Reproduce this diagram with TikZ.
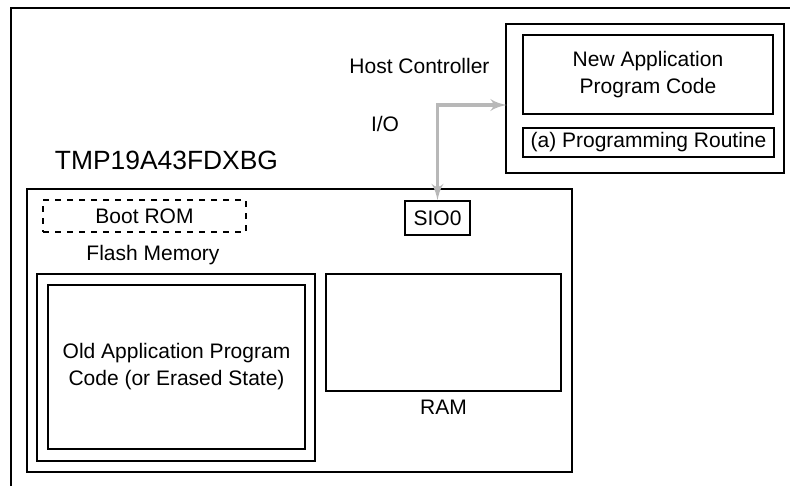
\documentclass[tikz,border=0pt]{standalone}
\usepackage{fontspec}
\setmainfont{Liberation Sans}
\usetikzlibrary{shapes,arrows,positioning}
\tikzstyle{box} = [rectangle, draw, line width=0.6pt, inner sep=0pt, align=center, font=\fontsize{10.5}{13.5}\selectfont]
\tikzstyle{boxthick} = [box, line width=1.1pt]
\tikzstyle{label} = [inner sep=0pt, font=\fontsize{10.5}{13.5}\selectfont]
\tikzstyle{link} = [draw, black!28, line width=1.8pt, latex'-latex', shorten >=-1pt]

\begin{document}
\begin{tikzpicture}[x=0.5pt, y=-0.5pt]
    \useasboundingbox (0,0) rectangle (790,486);
    \draw [line width=0.9pt] (11,486) -- (11,8) -- (790,8);
    % host side
    \node [boxthick, line width=1.4pt, minimum width=139pt, minimum height=74.5pt] (host) at (645,98.5) {};
    \node [box, minimum width=125pt, minimum height=39.5pt] (newcode) at (648,74.5) {New Application\\Program Code};
    \node [box, line width=0.9pt, minimum width=125.5pt, minimum height=14.5pt] (routine) at (648.5,142.5) {(a) Programming Routine};
    \node [label] (hostlbl) at (419.5,66) {Host Controller};
    \node [label] (io) at (385,124) {I/O};
    % microcontroller
    \node [label, font=\fontsize{13.2}{16}\selectfont] (chiplbl) at (166.5,160) {TMP19A43FDXBG};
    \node [boxthick, minimum width=272.5pt, minimum height=141.5pt] (chip) at (299.5,330.5) {};
    \node [box, dashed, line width=0.8pt, minimum width=101.5pt, minimum height=16pt] (bootrom) at (144.5,216) {Boot ROM};
    \node [box, line width=0.9pt, minimum width=32.5pt, minimum height=17pt] (sio) at (437.5,218) {SIO0};
    \node [label] (flashlbl) at (153,255) {Flash Memory};
    \node [boxthick, line width=1.3pt, minimum width=139pt, minimum height=93.5pt] (flash) at (176,367.5) {};
    \node [box, line width=0.9pt, minimum width=128.5pt, minimum height=82pt] (oldcode) at (176.5,367) {Old Application Program\\Code (or Erased State)};
    \node [box, line width=0.9pt, minimum width=117.5pt, minimum height=58.5pt] (ram) at (443.5,332.5) {};
    \node [label, below =4pt of ram] (ramlbl) {RAM};
    \path [link] (sio.north) |- ([yshift=-3.25pt]host.west);
\end{tikzpicture}
\end{document}
